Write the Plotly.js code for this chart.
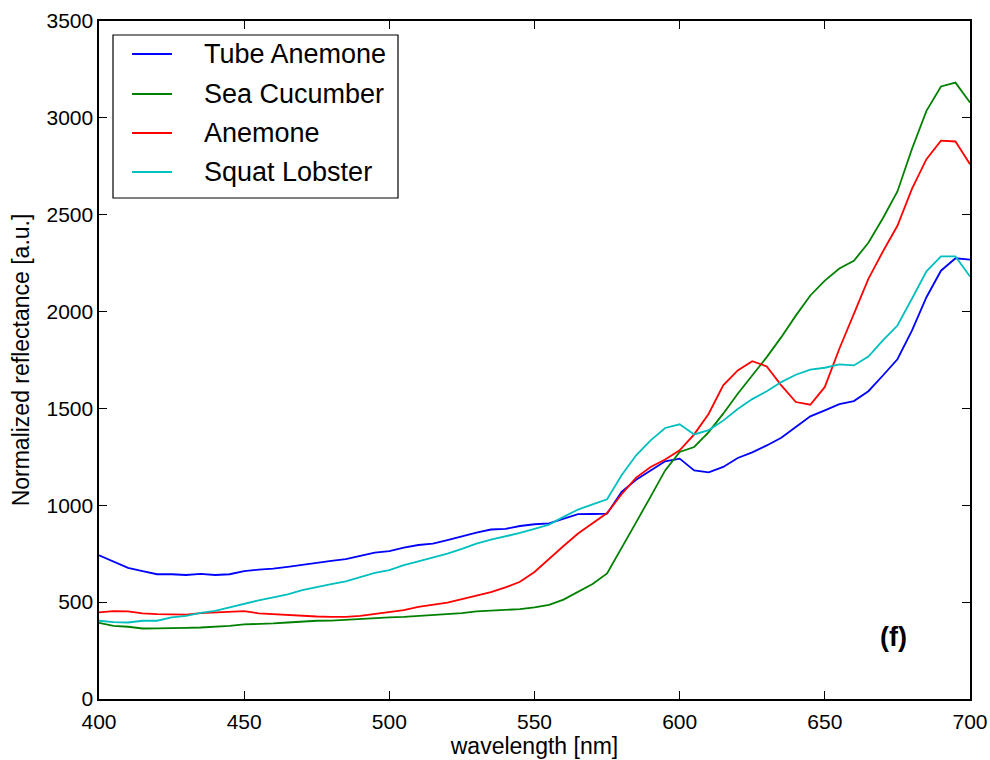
<!DOCTYPE html>
<html>
<head>
<meta charset="utf-8">
<script src="https://cdn.plot.ly/plotly-3.0.1.min.js"></script>
<style>html,body{margin:0;padding:0;background:#fff;}#chart{width:990px;height:760px;}</style>
</head>
<body>
<div id="chart"></div>
<script>
// wavelength grid 400..700 nm, 5 nm steps (61 samples)
const wavelength = [400,405,410,415,420,425,430,435,440,445,450,455,460,465,470,475,480,485,490,495,500,
  505,510,515,520,525,530,535,540,545,550,555,560,565,570,575,580,585,590,595,600,
  605,610,615,620,625,630,635,640,645,650,655,660,665,670,675,680,685,690,695,700];

const tubeAnemone = [742,708,677,660,644,644,640,646,640,644,660,668,673,682,694,703,713,722,739,756,763,
  782,795,802,820,840,859,875,878,893,902,907,929,954,955,957,1069,1132,1180,1227,1241,
  1180,1170,1198,1244,1273,1309,1349,1404,1459,1490,1522,1538,1589,1670,1754,1902,2074,2211,2275,2268];

const seaCucumber = [393,378,373,364,365,365,367,369,373,378,385,386,390,395,400,404,405,409,416,419,421,
  424,428,433,437,443,452,457,460,464,473,486,513,552,594,648,777,912,1045,1180,1275,
  1301,1378,1473,1576,1670,1765,1868,1979,2083,2160,2222,2262,2355,2482,2620,2839,3036,3162,3182,3079];

const anemone = [447,454,452,442,438,436,436,443,448,452,454,442,438,431,427,426,424,424,429,438,448,
  459,476,488,498,516,534,552,576,605,656,725,790,854,909,960,1057,1143,1198,1236,1284,
  1366,1473,1619,1696,1744,1717,1619,1533,1519,1611,1808,1988,2169,2310,2443,2633,2787,2882,2878,2761];

const squatLobster = [404,397,395,404,404,421,429,445,455,473,493,509,524,540,562,579,593,607,631,651,665,
  691,711,730,751,775,802,823,840,857,878,900,940,978,1005,1031,1155,1258,1335,1399,1418,
  1366,1388,1437,1497,1548,1589,1636,1674,1700,1710,1727,1722,1768,1851,1928,2066,2208,2285,2285,2181];

const seriesNames = ['Tube Anemone','Sea Cucumber','Anemone','Squat Lobster'];
const seriesData = [tubeAnemone, seaCucumber, anemone, squatLobster];
const seriesColors = ['#0000ff','#008000','#ff0000','#00bfbf'];

const xTicks = [400,450,500,550,600,650,700];
const yTicks = [0,500,1000,1500,2000,2500,3000,3500];

const FONT = 'Liberation Sans, Arial, sans-serif';
const W = 990, H = 760;
const M = {l:99, r:20, t:21, b:61};
const plotW = W - M.l - M.r, plotH = H - M.t - M.b;
// pixel -> paper helpers (layout only)
const px = v => (v - M.l) / plotW;
const py = v => (H - M.b - v) / plotH;

const traces = seriesData.map((ys,i)=>({
  x: wavelength, y: ys, type:'scatter', mode:'lines', name: seriesNames[i],
  showlegend:false,
  line:{color:seriesColors[i], width:1.8}
}));

// hand-drawn legend (matplotlib-style box)
const legBox = {x0:113, x1:398, y0:35, y1:198};
const rowY = [54, 94, 133, 172];
const shapes = [{
  type:'rect', xref:'paper', yref:'paper',
  x0:px(legBox.x0), x1:px(legBox.x1), y0:py(legBox.y1), y1:py(legBox.y0),
  line:{color:'#000', width:1.2}, fillcolor:'#fff', layer:'above'
}];
const annotations = [];
seriesNames.forEach((n,i)=>{
  shapes.push({type:'line', xref:'paper', yref:'paper',
    x0:px(132), x1:px(172), y0:py(rowY[i]), y1:py(rowY[i]),
    line:{color:seriesColors[i], width:1.8}, layer:'above'});
  annotations.push({xref:'paper', yref:'paper', x:px(202), y:py(rowY[i]),
    xanchor:'left', yanchor:'middle', text:n, showarrow:false,
    font:{family:FONT, size:27, color:'#000'}});
});
annotations.push({
  x:px(893), y:py(637), xref:'paper', yref:'paper', text:'<b>(f)</b>', showarrow:false,
  xanchor:'center', yanchor:'middle',
  font:{family:FONT, size:27, color:'#000'}
});

const axisCommon = {
  showline:true, linecolor:'#000', linewidth:1.6, mirror:'ticks',
  ticks:'inside', ticklen:8, tickwidth:1, tickcolor:'#000',
  showgrid:false, zeroline:false,
  tickfont:{family:FONT, size:21, color:'#000'}
};

const layout = {
  width:W, height:H,
  margin:M,
  paper_bgcolor:'#fff', plot_bgcolor:'#fff',
  font:{family:FONT, color:'#000'},
  showlegend:false,
  xaxis: Object.assign({}, axisCommon, {
    range:[400,700], tickvals:xTicks, ticktext:xTicks.map(String),
    ticklabelstandoff:3,
    title:{text:'wavelength [nm]', font:{family:FONT, size:23, color:'#000'}, standoff:3}
  }),
  yaxis: Object.assign({}, axisCommon, {
    range:[0,3500], tickvals:yTicks, ticktext:yTicks.map(String),
    title:{text:'Normalized reflectance [a.u.]', font:{family:FONT, size:23, color:'#000'}, standoff:10}
  }),
  shapes: shapes,
  annotations: annotations
};

Plotly.newPlot('chart', traces, layout, {displayModeBar:false, staticPlot:true});
</script>
</body>
</html>
